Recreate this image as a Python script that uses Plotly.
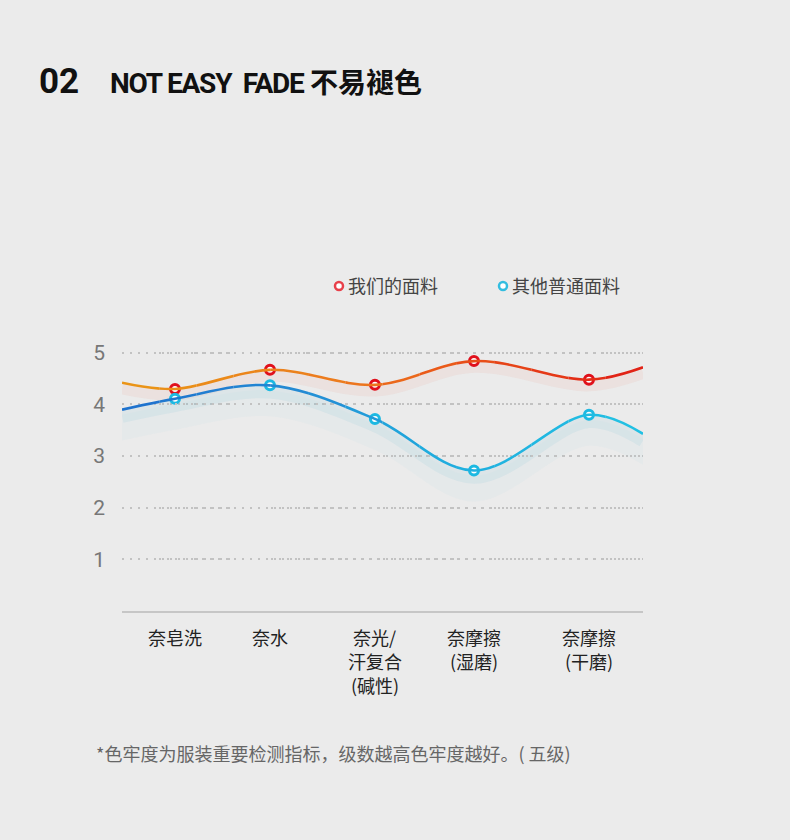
import plotly.graph_objects as go

# ---------------- data ----------------
category_lines = [["奈皂洗"], ["奈水"], ["奈光/", "汗复合", "(碱性)"], ["奈摩擦", "(湿磨)"], ["奈摩擦", "(干磨)"]]
cat_pos = [0.0, 0.918, 1.932, 2.889, 4.0]
edge_pos = [-0.512, 4.522]

ours = [4.30, 4.67, 4.38, 4.84, 4.48]
ours_edges = [4.42, 4.72]
others = [4.11, 4.37, 3.72, 2.72, 3.80]
others_edges = [3.90, 3.43]

y_ticks = [1, 2, 3, 4, 5]
series_names = ["我们的面料", "其他普通面料"]

# ---------------- styling ----------------
BG = "#ebebeb"
CJK = "Noto Sans CJK SC"
LAT = "Roboto"

line_x = [edge_pos[0]] + cat_pos + [edge_pos[1]]
ours_line = [ours_edges[0]] + ours + [ours_edges[1]]
others_line = [others_edges[0]] + others + [others_edges[1]]

xr = [edge_pos[0], edge_pos[1]]

orange_stops = [(0.0, (234, 150, 22)), (0.45, (236, 120, 30)), (0.65, (233, 82, 24)), (1.0, (224, 30, 22))]
blue_stops = [(0.0, (30, 112, 205)), (0.35, (36, 140, 212)), (0.6, (32, 172, 222)), (1.0, (34, 194, 228))]


def interp(stops, t):
    for (t0, c0), (t1, c1) in zip(stops[:-1], stops[1:]):
        if t0 <= t <= t1:
            f = (t - t0) / (t1 - t0)
            return "rgb(%d,%d,%d)" % tuple(round(a + (b - a) * f) for a, b in zip(c0, c1))
    return "rgb(%d,%d,%d)" % stops[-1][1]


fig = go.Figure()

# soft area under the "others" line
fig.add_trace(go.Scatter(x=line_x, y=[v - 0.1 for v in others_line], mode="lines",
                         line=dict(color="rgba(0,0,0,0)", width=0, shape="spline"),
                         hoverinfo="skip", showlegend=False))
fig.add_trace(go.Scatter(x=line_x, y=[v - 0.6 for v in others_line], mode="lines",
                         line=dict(color="rgba(0,0,0,0)", width=0, shape="spline"),
                         fill="tonexty", fillcolor="rgba(160,212,225,0.07)",
                         hoverinfo="skip", showlegend=False))
# glows
fig.add_trace(go.Scatter(x=line_x, y=[v - 0.11 for v in ours_line], mode="lines",
                         line=dict(color="rgba(240,140,115,0.10)", width=12, shape="spline"),
                         hoverinfo="skip", showlegend=False))
fig.add_trace(go.Scatter(x=line_x, y=[v - 0.13 for v in others_line], mode="lines",
                         line=dict(color="rgba(80,175,210,0.09)", width=13, shape="spline"),
                         hoverinfo="skip", showlegend=False))

# gradient lines via clipped slices
N = 14
w = (xr[1] - xr[0]) / N
layout_axes = {}
for i in range(N):
    t = (i + 0.5) / N
    ax_id = "x%d" % (i + 2)
    layout_axes["xaxis%d" % (i + 2)] = dict(domain=[i / N, (i + 1) / N],
                                            range=[xr[0] + i * w, xr[0] + (i + 1) * w],
                                            visible=False, anchor="y", fixedrange=True)
    fig.add_trace(go.Scatter(x=line_x, y=ours_line, mode="lines", xaxis=ax_id, yaxis="y",
                             line=dict(color=interp(orange_stops, t), width=2.6, shape="spline"),
                             hoverinfo="skip", showlegend=False))
    fig.add_trace(go.Scatter(x=line_x, y=others_line, mode="lines", xaxis=ax_id, yaxis="y",
                             line=dict(color=interp(blue_stops, t), width=2.6, shape="spline"),
                             hoverinfo="skip", showlegend=False))

# markers on an overlay axis (drawn on top)
top_ax = "x%d" % (N + 2)
layout_axes["xaxis%d" % (N + 2)] = dict(range=xr, overlaying="x", visible=False, anchor="y", fixedrange=True)
fig.add_trace(go.Scatter(x=cat_pos, y=ours, mode="markers", name=series_names[0], xaxis=top_ax, yaxis="y",
                         marker=dict(size=9, color="white", line=dict(color="#e0101c", width=3)),
                         cliponaxis=False, showlegend=False))
fig.add_trace(go.Scatter(x=cat_pos, y=others, mode="markers", name=series_names[1], xaxis=top_ax, yaxis="y",
                         marker=dict(size=9, color="white", line=dict(color="#1cb9e2", width=3)),
                         cliponaxis=False, showlegend=False))

# ---------------- layout ----------------
L, R, T, B = 122, 147, 327, 229
PW, PH = 790 - L - R, 840 - T - B


def px(xp):
    return (xp - L) / PW


def py(yp):
    return (840 - B - yp) / PH


annotations = [
    dict(text="<b>02</b>", x=px(37), y=py(81), xanchor="left", yanchor="middle",
         font=dict(family=LAT, size=35, color="#111111")),
    dict(text="<b><span style='letter-spacing:-1.2px'>NOT EASY&nbsp;&nbsp;FADE</span></b>"
              "<span style='font-family:Noto Sans CJK SC;font-size:28px'><b> 不易褪色</b></span>",
         x=px(108), y=py(81), xanchor="left", yanchor="middle",
         font=dict(family=LAT, size=28, color="#111111")),
    dict(text=series_names[0], x=px(346), y=py(285), xanchor="left", yanchor="middle",
         font=dict(family=CJK, size=18, color="#444444")),
    dict(text=series_names[1], x=px(510), y=py(285), xanchor="left", yanchor="middle",
         font=dict(family=CJK, size=18, color="#444444")),
    dict(text="*色牢度为服装重要检测指标，级数越高色牢度越好。( 五级)", x=px(94), y=py(753),
         xanchor="left", yanchor="middle", font=dict(family=CJK, size=18, color="#666666")),
]
for a in annotations:
    a.update(xref="paper", yref="paper", showarrow=False)

# category labels, one annotation per line
for xpos, lines in zip(cat_pos, category_lines):
    for j, line in enumerate(lines):
        annotations.append(dict(text=line, x=xpos, xref="x", y=py(637 + 24 * j), yref="paper",
                                xanchor="center", yanchor="middle", showarrow=False,
                                font=dict(family=CJK, size=18, color="#222222")))

shapes = []
for xp, col in [(339, "#e8404a"), (503, "#33bde0")]:
    shapes.append(dict(type="circle", xref="paper", yref="paper", xsizemode="pixel", ysizemode="pixel",
                       xanchor=px(xp), yanchor=py(286), x0=-4, x1=4, y0=-4, y1=4,
                       line=dict(color=col, width=2.5), fillcolor="white"))

fig.update_layout(
    width=790, height=840,
    margin=dict(l=L, r=R, t=T, b=B),
    paper_bgcolor=BG, plot_bgcolor="rgba(0,0,0,0)",
    showlegend=False,
    annotations=annotations,
    shapes=shapes,
    xaxis=dict(range=xr, showticklabels=False, showgrid=False, zeroline=False,
               showline=True, linecolor="#c6c6c6", linewidth=2, ticks="", fixedrange=True),
    yaxis=dict(range=[0, 5.5], tickvals=y_ticks, showgrid=True, gridcolor="#c2c2c2", griddash="2px,6px",
               gridwidth=1.5, zeroline=False, showline=False, ticks="", ticklabelstandoff=16,
               tickfont=dict(family=LAT, size=21, color="#777777"), fixedrange=True),
    **layout_axes,
)

fig.write_html("out.html")
